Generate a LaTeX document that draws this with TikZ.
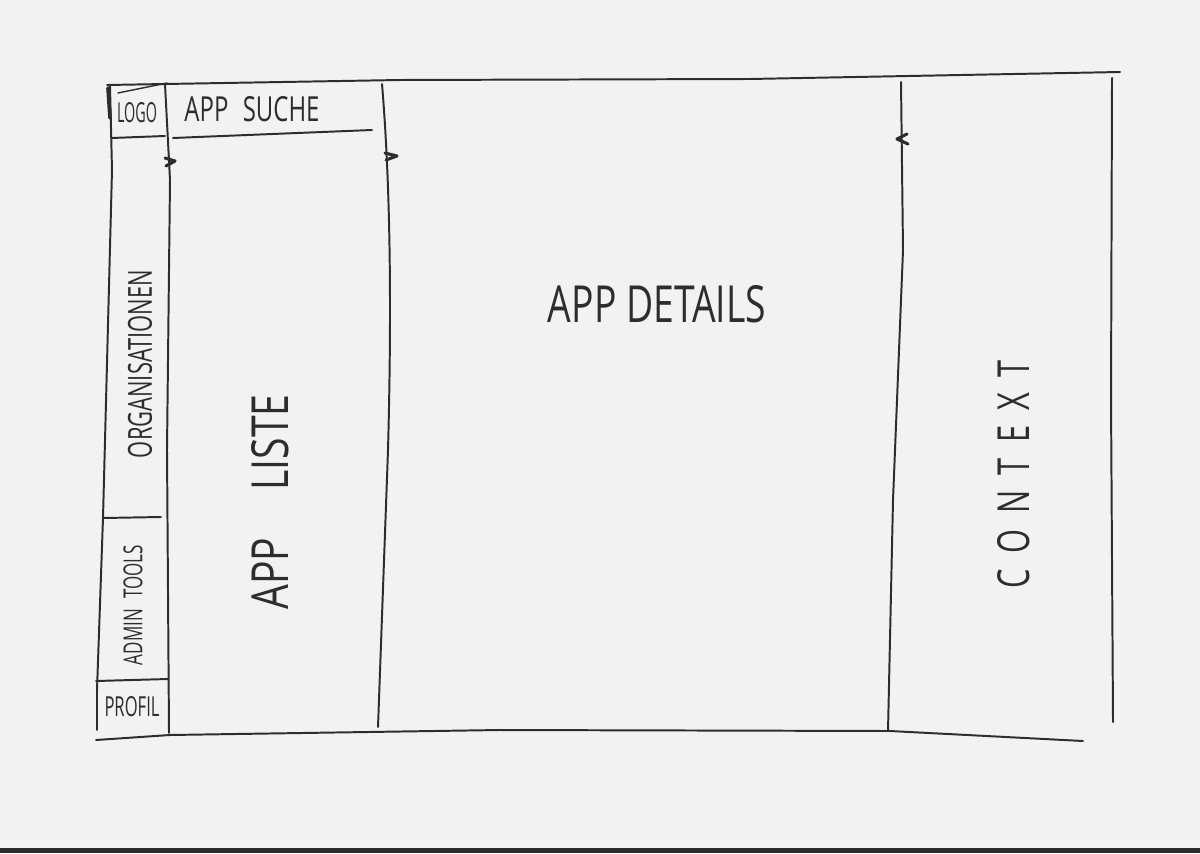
\documentclass[tikz,border=0pt]{standalone}
\usepackage{fontspec}
\setmainfont{Open Sans}
\usepackage{graphicx}
\definecolor{paper}{RGB}{242,242,242}
\definecolor{ink}{RGB}{45,45,45}
\definecolor{barc}{RGB}{43,43,43}
\newcommand{\fitbox}[3]{\resizebox{#1\dimexpr0.025cm\relax}{#2\dimexpr0.025cm\relax}{#3}}
\tikzset{
  pen/.style={draw=ink, line width=1.4pt, line cap=round, line join=round},
  thinpen/.style={draw=ink, line width=1.0pt, line cap=round},
  handle/.style={draw=ink, line width=2.2pt, line cap=round, line join=round},
  lbl/.style={inner sep=0pt, outer sep=0pt, text=ink, anchor=center},
}
\begin{document}
\begin{tikzpicture}[x=0.025cm, y=-0.025cm]
\useasboundingbox (0,0) rectangle (1200,853);
\fill[paper] (0,0) rectangle (1200,853);
\fill[barc] (0,848) rectangle (1200,853);

% corner coordinates
\coordinate (tl) at (107,85);
\coordinate (tr) at (1120,72);
\coordinate (bl) at (96,740);
\coordinate (br) at (1083,741);

% outer frame
\draw[pen] (tl) -- (400,80) -- (750,79) -- (tr);
\draw[pen] (bl) -- (170,735) -- (500,730) -- (890,731) -- (br);
\draw[pen] (110,86) -- (112,170) -- (103,518) -- (97,690) -- (97,730);
\draw[pen] (1112,78) -- (1111,400) -- (1113,722);
\draw[line width=2.6pt, ink, line cap=round] (108,88) -- (110,118);
\draw[thinpen] (118,93) -- (167,83);

% column separators
\draw[pen] (165,84) -- (170,180) -- (167,450) -- (169,733);
\draw[pen] (382,84) .. controls (390,180) and (392,300) .. (388,450) -- (378,727);
\draw[pen] (901,82) -- (903,250) -- (893,500) -- (888,731);

% horizontal separators
\draw[pen] (112,138) -- (165,136);
\draw[pen] (173,138) -- (372,130);
\draw[pen] (103,518) -- (161,517);
\draw[pen] (96,681) -- (168,679);

% resize handles
\draw[handle] (165,158) -- (175,161) -- (166,166);
\draw[handle] (385,153) -- (397,156) -- (386,160);
\draw[handle] (907,134) -- (897,139) -- (908,144);

% labels
\node[lbl] (logo) at (137,113) {\fitbox{40}{20}{LOGO}};
\node[lbl] (suche) at (252,109) {\fitbox{135}{25}{APP\hspace{0.6em}SUCHE}};
\node[lbl] (details) at (657,304) {\fitbox{218}{37}{APP DETAILS}};
\node[lbl, rotate=90] (liste) at (270,502) {\fitbox{215}{37}{APP\hspace{1.2em}LISTE}};
\node[lbl, rotate=90] (context) at (1014,474) {\fitbox{228}{32}{C\hspace{0.5em}O\hspace{0.5em}N\hspace{0.5em}T\hspace{0.5em}E\hspace{0.5em}X\hspace{0.5em}T}};
\node[lbl, rotate=90] (orga) at (140,364) {\fitbox{188}{24}{ORGANISATIONEN}};
\node[lbl, rotate=90] (admin) at (133,605) {\fitbox{120}{19}{ADMIN\hspace{0.6em}TOOLS}};
\node[lbl] (profil) at (132,707) {\fitbox{55}{20}{PROFIL}};
\end{tikzpicture}
\end{document}
